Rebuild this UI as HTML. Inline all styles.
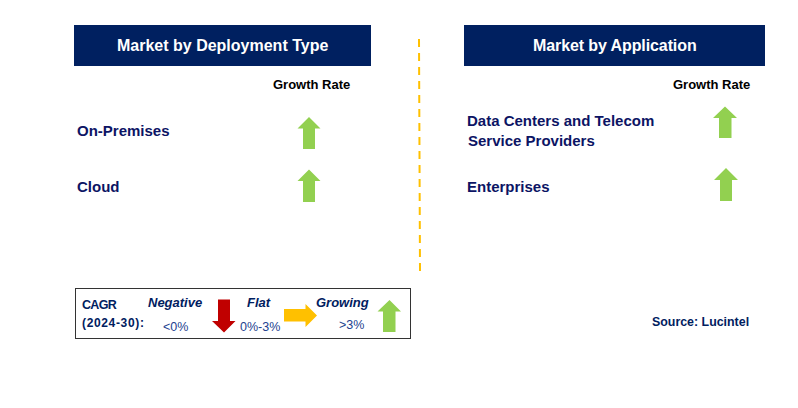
<!DOCTYPE html>
<html><head><meta charset="utf-8">
<style>
html,body{margin:0;padding:0;background:#fff;}
body{width:798px;height:408px;position:relative;overflow:hidden;font-family:"Liberation Sans",sans-serif;}
.t{position:absolute;white-space:nowrap;line-height:1;}
.hdr{position:absolute;background:#002060;}
.ht{color:#fff;font-weight:bold;font-size:16px;}
.gr{color:#000;font-weight:bold;font-size:13px;}
.lb{color:#0c1464;font-weight:bold;font-size:15px;}
.lg{color:#002060;font-weight:bold;font-size:12px;}
.lgi{color:#002060;font-weight:bold;font-style:italic;font-size:13px;}
.lgn{color:#23428f;font-size:12.5px;}
svg{position:absolute;left:0;top:0;}
</style></head><body>
<div class="hdr" style="left:74px;top:25px;width:297px;height:41px;"></div>
<div class="hdr" style="left:464px;top:25px;width:301px;height:41px;"></div>
<div class="t ht" style="left:117px;top:38px;">Market by Deployment Type</div>
<div class="t ht" style="left:533px;top:38px;letter-spacing:-0.1px;">Market by Application</div>
<div class="t gr" style="left:273px;top:78px;">Growth Rate</div>
<div class="t gr" style="left:673px;top:78px;">Growth Rate</div>
<div class="t lb" style="left:77px;top:123px;">On-Premises</div>
<div class="t lb" style="left:77px;top:179px;">Cloud</div>
<div class="t lb" style="left:467px;top:113px;">Data Centers and Telecom</div>
<div class="t lb" style="left:468px;top:133px;">Service Providers</div>
<div class="t lb" style="left:467px;top:179px;">Enterprises</div>
<div style="position:absolute;left:75px;top:288px;width:334px;height:49px;border:1px solid #333;"></div>
<div class="t lg" style="left:82px;top:299px;font-size:12.5px;letter-spacing:-0.7px;">CAGR</div>
<div class="t lg" style="left:82px;top:317px;letter-spacing:0.65px;">(2024-30):</div>
<div class="t lgi" style="left:148px;top:296px;">Negative</div>
<div class="t lgi" style="left:247px;top:296px;">Flat</div>
<div class="t lgi" style="left:316px;top:296px;">Growing</div>
<div class="t lgn" style="left:163px;top:321px;">&lt;0%</div>
<div class="t lgn" style="left:240px;top:321px;">0%-3%</div>
<div class="t lgn" style="left:339px;top:319px;">&gt;3%</div>
<div class="t lg" style="left:652px;top:316px;font-size:12.4px;">Source: Lucintel</div>
<svg width="798" height="408" viewBox="0 0 798 408">
<line x1="419" y1="39" x2="420" y2="271" stroke="#FFC000" stroke-width="2" stroke-dasharray="8 6"/>
<g fill="#92D050">
<polygon points="309,117 320.5,128.5 315,128.5 315,149 303,149 303,128.5 297.5,128.5"/>
<polygon points="309,169.5 320.5,181 315,181 315,202 303,202 303,181 297.5,181"/>
<polygon points="725,106.5 737,118 731.5,118 731.5,138 719,138 719,118 713,118"/>
<polygon points="726,168 738,180 732,180 732,201 720,201 720,180 714,180"/>
<polygon points="389.5,300 401,311.5 395.5,311.5 395.5,332 383,332 383,311.5 377.5,311.5"/>
</g>
<polygon fill="#C00000" points="218,299.5 230,299.5 230,321 235.5,321 224,332.5 212,321 218,321"/>
<polygon fill="#FFC000" points="284,309 305.5,309 305.5,304 317,315.5 305.5,327 305.5,321.5 284,321.5"/>
</svg>
</body></html>
